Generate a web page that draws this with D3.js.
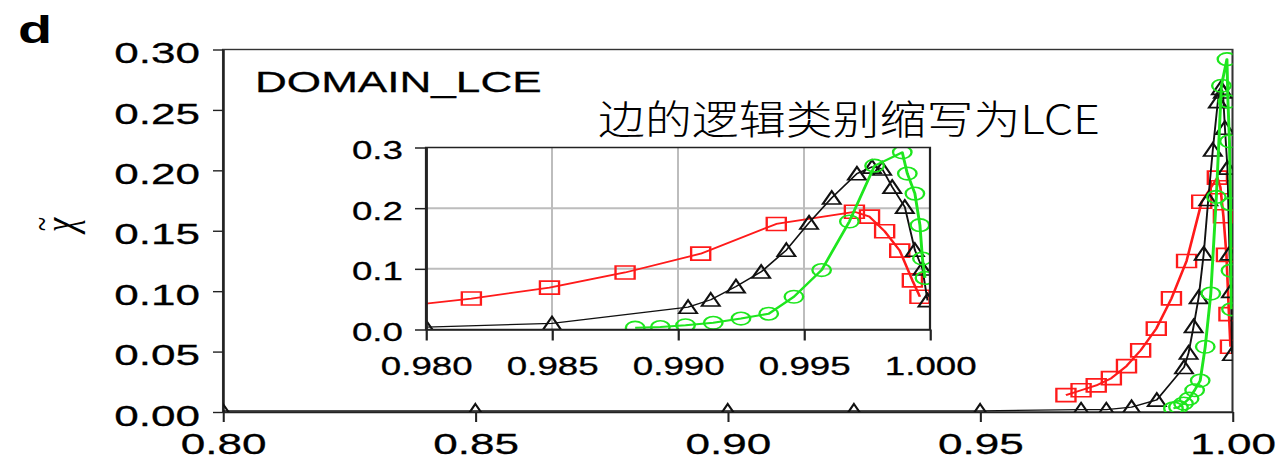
<!DOCTYPE html>
<html>
<head>
<meta charset="utf-8">
<script src="https://cdn.jsdelivr.net/npm/d3@7"></script>
<style>
  html, body { margin: 0; padding: 0; background: #fff; }
  svg { display: block; }
  text { font-family: "Liberation Sans", Arial, Helvetica, sans-serif; fill: #000; }
  .lbl { stroke: #000; stroke-width: 0.28; }
</style>
</head>
<body>
<script>
// Tick values
const mainXTicks = [0.80, 0.85, 0.90, 0.95, 1.00];
const mainYTicks = [0.00, 0.05, 0.10, 0.15, 0.20, 0.25, 0.30];
const insetXTicks = [0.980, 0.985, 0.990, 0.995, 1.000];
const insetYTicks = [0.0, 0.1, 0.2, 0.3];

// Series: black triangles
const blackX = [0.800, 0.850, 0.900, 0.925, 0.950, 0.970, 0.975, 0.980, 0.985,
                0.9904, 0.9913, 0.9923, 0.9933, 0.9943, 0.9952, 0.9961, 0.9971,
                0.9977, 0.9981, 0.9985, 0.9990, 0.9994, 0.9997, 0.9999];
const blackY = [0.001, 0.001, 0.001, 0.001, 0.001, 0.002, 0.002, 0.004, 0.010,
                0.037, 0.049, 0.071, 0.095, 0.131, 0.176, 0.217, 0.257,
                0.268, 0.265, 0.235, 0.202, 0.131, 0.100, 0.048];

// Series: red squares
const redX = [0.967, 0.970, 0.973, 0.976, 0.979, 0.9818, 0.9849, 0.9879, 0.9909,
              0.9939, 0.9970, 0.9976, 0.9982, 0.9988, 0.9993, 0.9996];
const redY = [0.014, 0.018, 0.022, 0.028, 0.038, 0.051, 0.069, 0.094, 0.125,
              0.174, 0.194, 0.186, 0.162, 0.130, 0.081, 0.054];

// Series: green circles
const greenX = [0.9883, 0.9893, 0.9903, 0.9914, 0.9925, 0.9936, 0.9946, 0.9957,
                0.9968, 0.9978, 0.9989, 0.9991, 0.9994, 0.9996, 0.9997, 0.9998];
const greenY = [0.003, 0.004, 0.007, 0.011, 0.018, 0.026, 0.054, 0.098,
                0.178, 0.270, 0.292, 0.257, 0.224, 0.172, 0.117, 0.085];

const W = 1281, H = 464;
const S = 1.47;              // horizontal stretch of the figure
const X = px => px / S;      // page x -> drawing x

const svg = d3.select("body").append("svg").attr("width", W).attr("height", H);
const g = svg.append("g").attr("transform", `scale(${S},1)`);

const series = [
  { name: "red",   xs: redX,   ys: redY,   color: "#ff1a1a", lw: 1.8, shape: "square" },
  { name: "black", xs: blackX, ys: blackY, color: "#111111", lw: 1.3, shape: "triangle" },
  { name: "green", xs: greenX, ys: greenY, color: "#1ee61e", lw: 2.0, shape: "circle" }
];

function markerPath(shape) {
  if (shape === "square") { const s = 6.5; return `M${-s},${-s}H${s}V${s}H${-s}Z`; }
  if (shape === "triangle") { return "M0,-6.8L6.1,6.2L-6.1,6.2Z"; }
  return null;
}

function drawSeries(parent, xs, ys, clipId) {
  const layer = parent.append("g").attr("clip-path", `url(#${clipId})`);
  series.forEach(s => {
    const pts = s.xs.map((v, i) => [v, s.ys[i]]);
    const line = d3.line().x(d => xs(d[0])).y(d => ys(d[1]));
    layer.append("path").datum(pts)
      .attr("d", line).attr("fill", "none")
      .attr("stroke", s.color).attr("stroke-width", s.lw)
      .attr("stroke-linejoin", "round");
    const m = layer.append("g");
    if (s.shape === "circle") {
      m.selectAll("circle").data(pts).join("circle")
        .attr("cx", d => xs(d[0])).attr("cy", d => ys(d[1])).attr("r", 6.3)
        .attr("fill", "none").attr("stroke", s.color).attr("stroke-width", 1.6);
    } else {
      m.selectAll("path").data(pts).join("path")
        .attr("d", markerPath(s.shape))
        .attr("transform", d => `translate(${xs(d[0])},${ys(d[1])})`)
        .attr("fill", "none").attr("stroke", s.color).attr("stroke-width", 1.6);
    }
  });
}

// ---------- main panel ----------
const mx = d3.scaleLinear().domain([0.80, 1.00]).range([X(223), X(1232.5)]);
const my = d3.scaleLinear().domain([0, 0.30]).range([412, 49.5]);

const defs = svg.append("defs");
defs.append("clipPath").attr("id", "clipMain").append("rect")
  .attr("x", mx(0.80)).attr("y", my(0.30))
  .attr("width", mx(1.00) - mx(0.80)).attr("height", my(0) - my(0.30));

g.append("rect")
  .attr("x", mx(0.80)).attr("y", my(0.30))
  .attr("width", mx(1.00) - mx(0.80)).attr("height", my(0) - my(0.30))
  .attr("fill", "#fff").attr("stroke", "#333").attr("stroke-width", 1.4);

const axMainY = g.append("g").attr("transform", `translate(${mx(0.80)},0)`)
  .call(d3.axisLeft(my).tickValues(mainYTicks).tickFormat(d3.format(".2f"))
    .tickSize(X(10)).tickPadding(X(13)).tickSizeOuter(0));
axMainY.selectAll("text").attr("font-size", 30).attr("dy", "0.44em").attr("class", "lbl");

const axMainX = g.append("g").attr("transform", `translate(0,${my(0)})`)
  .call(d3.axisBottom(mx).tickValues(mainXTicks).tickFormat(d3.format(".2f"))
    .tickSize(10).tickPadding(11).tickSizeOuter(0));
axMainX.selectAll("text").attr("font-size", 30).attr("class", "lbl");

[axMainY, axMainX].forEach(a => {
  a.select(".domain").attr("stroke", "#222").attr("stroke-width", 1.4);
  a.selectAll(".tick line").attr("stroke", "#222").attr("stroke-width", 1.4);
});

g.append("text").attr("x", X(255)).attr("y", 92).attr("class", "lbl")
  .attr("font-size", 30).text("DOMAIN_LCE");

g.append("text").attr("x", X(18)).attr("y", 43)
  .attr("font-size", 38).attr("font-weight", "bold").text("d");

// y-axis symbol: chi with a tilde above, turned on its side
const ylab = g.append("g").attr("transform", `translate(${X(75)},225) rotate(-90)`);
ylab.append("text").attr("text-anchor", "middle").attr("y", 0)
  .style("font-family", "'Liberation Serif', 'Times New Roman', serif")
  .style("font-style", "italic").attr("font-size", 32)
  .text("\u03C7");
ylab.append("text").attr("text-anchor", "middle").attr("x", 1).attr("y", -14)
  .style("font-family", "'Liberation Serif', 'Times New Roman', serif")
  .attr("font-size", 26)
  .text("~");

drawSeries(g, mx, my, "clipMain");

// ---------- inset ----------
const ix = d3.scaleLinear().domain([0.980, 1.000]).range([X(426), X(930)]);
const iy = d3.scaleLinear().domain([0, 0.3]).range([329.5, 147.5]);

defs.append("clipPath").attr("id", "clipInset").append("rect")
  .attr("x", ix(0.98)).attr("y", iy(0.3))
  .attr("width", ix(1.0) - ix(0.98)).attr("height", iy(0) - iy(0.3));

const ins = g.append("g");
ins.append("rect")
  .attr("x", ix(0.98)).attr("y", iy(0.3))
  .attr("width", ix(1.0) - ix(0.98)).attr("height", iy(0) - iy(0.3))
  .attr("fill", "#fff");

// grid
ins.append("g").selectAll("line").data(insetXTicks.slice(1, -1)).join("line")
  .attr("x1", d => ix(d)).attr("x2", d => ix(d))
  .attr("y1", iy(0)).attr("y2", iy(0.3))
  .attr("stroke", "#bdbdbd").attr("stroke-width", 1.4);
ins.append("g").selectAll("line").data(insetYTicks.slice(1, -1)).join("line")
  .attr("x1", ix(0.98)).attr("x2", ix(1.0))
  .attr("y1", d => iy(d)).attr("y2", d => iy(d))
  .attr("stroke", "#bdbdbd").attr("stroke-width", 2);

drawSeries(ins, ix, iy, "clipInset");

ins.append("rect")
  .attr("x", ix(0.98)).attr("y", iy(0.3))
  .attr("width", ix(1.0) - ix(0.98)).attr("height", iy(0) - iy(0.3))
  .attr("fill", "none").attr("stroke", "#222").attr("stroke-width", 1.5);

const axInY = ins.append("g").attr("transform", `translate(${ix(0.98)},0)`)
  .call(d3.axisLeft(iy).tickValues(insetYTicks).tickFormat(d3.format(".1f"))
    .tickSize(X(11)).tickPadding(X(12)).tickSizeOuter(0));
axInY.selectAll("text").attr("font-size", 25).attr("dy", "0.44em").attr("class", "lbl");

const axInX = ins.append("g").attr("transform", `translate(0,${iy(0)})`)
  .call(d3.axisBottom(ix).tickValues(insetXTicks).tickFormat(d3.format(".3f"))
    .tickSize(11).tickPadding(17).tickSizeOuter(0));
axInX.selectAll("text").attr("font-size", 25).attr("class", "lbl");

[axInY, axInX].forEach(a => {
  a.select(".domain").attr("stroke", "#222").attr("stroke-width", 1.6);
  a.selectAll(".tick line").attr("stroke", "#222").attr("stroke-width", 1.5);
});

// ---------- annotation ----------
svg.append("text")
  .attr("x", 598).attr("y", 134)
  .attr("font-size", 40).attr("font-weight", 300)
  .attr("textLength", 502).attr("lengthAdjust", "spacingAndGlyphs")
  .style("font-family", "'Noto Sans CJK SC', 'Noto Sans', sans-serif")
  .text("边的逻辑类别缩写为LCE");
</script>
</body>
</html>
